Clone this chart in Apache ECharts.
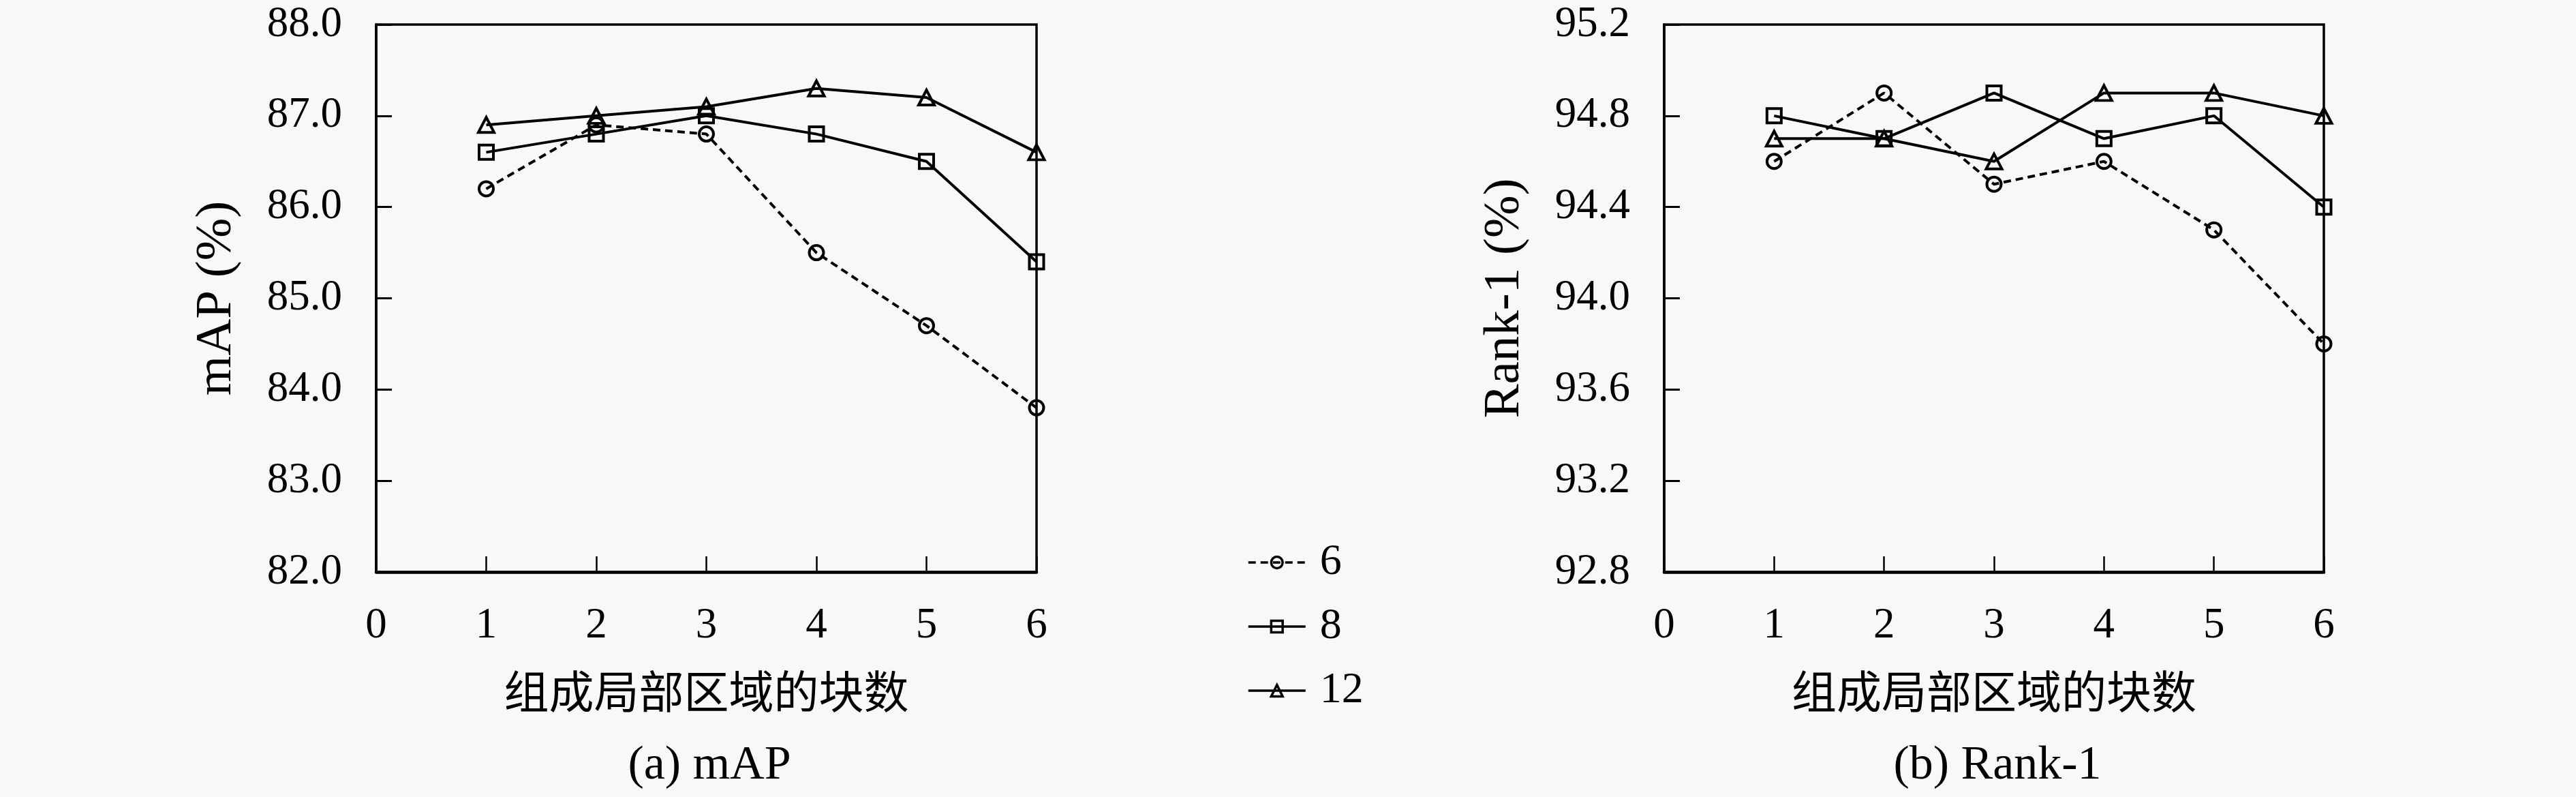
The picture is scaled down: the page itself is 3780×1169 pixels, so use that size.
<!DOCTYPE html>
<html>
<head>
<meta charset="utf-8">
<script src="https://cdn.jsdelivr.net/npm/echarts@6/dist/echarts.min.js"></script>
<style>
html,body{margin:0;padding:0;background:#f8f8f8;}
#chart{width:3780px;height:1169px;}
</style>
</head>
<body>
<div id="chart"></div>
<script>
// ---- data ----
const blocks = [1, 2, 3, 4, 5, 6];
const seriesNames = ['6', '8', '12'];
const map6 = [86.2, 86.9, 86.8, 85.5, 84.7, 83.8];
const map8 = [86.6, 86.8, 87.0, 86.8, 86.5, 85.4];
const map12 = [86.9, 87.0, 87.1, 87.3, 87.2, 86.6];
const rank6 = [94.6, 94.9, 94.5, 94.6, 94.3, 93.8];
const rank8 = [94.8, 94.7, 94.9, 94.7, 94.8, 94.4];
const rank12 = [94.7, 94.7, 94.6, 94.9, 94.9, 94.8];
const xAxisTitle = '组成局部区域的块数';
const yTitles = ['mAP (%)', 'Rank-1 (%)'];
const subTitles = ['(a) mAP', '(b) Rank-1'];

const FONT = "'Liberation Serif', 'Noto Sans CJK SC', serif";
const BG = '#f8f8f8';

function pairs(ys) { return blocks.map((x, i) => [x, ys[i]]); }

const grids = [
  { left: 552, top: 36, width: 969, height: 803 },
  { left: 2442, top: 36, width: 968, height: 803 }
];

function xAxisFor(idx) {
  return {
    gridIndex: idx, type: 'value', min: 0, max: 6, interval: 1,
    name: xAxisTitle, nameLocation: 'middle', nameGap: 150,
    nameTextStyle: { fontFamily: FONT, fontSize: 66, color: '#000', lineHeight: 66 },
    axisLine: { show: true, lineStyle: { color: '#000', width: 4.5 } },
    axisTick: { show: true, inside: true, length: 23, lineStyle: { color: '#000', width: 2.5 } },
    axisLabel: { fontFamily: FONT, fontSize: 63, color: '#000', margin: 48 },
    splitLine: { show: false }
  };
}
function yAxisFor(idx, min, max, interval, name) {
  return {
    gridIndex: idx, type: 'value', min: min, max: max, interval: interval,
    name: name, nameLocation: 'middle', nameGap: 196, nameRotate: 90,
    nameTextStyle: { fontFamily: FONT, fontSize: 75, color: '#000' },
    axisLine: { show: true, lineStyle: { color: '#000', width: 3.5 } },
    axisTick: { show: true, inside: true, length: 23, lineStyle: { color: '#000', width: 3 } },
    axisLabel: { fontFamily: FONT, fontSize: 63, color: '#000', margin: 50,
      formatter: v => Number(v).toFixed(1) },
    splitLine: { show: false }
  };
}

const styles = [
  { symbol: 'circle', size: 21, type: [11, 7] },
  { symbol: 'rect', size: 21, type: 'solid' },
  { symbol: 'triangle', size: [23, 22], type: 'solid' }
];

function mkSeries(idx, name, ys, st) {
  return {
    type: 'line', name: name, xAxisIndex: idx, yAxisIndex: idx,
    data: pairs(ys), symbol: st.symbol, symbolSize: st.size, showSymbol: true,
    lineStyle: { color: '#000', width: 4, type: st.type },
    itemStyle: { color: 'rgba(0,0,0,0)', borderColor: '#000', borderWidth: 4 },
    emphasis: { disabled: true }, animation: false
  };
}

const leftData = [map6, map8, map12];
const rightData = [rank6, rank8, rank12];
const series = [];
seriesNames.forEach((n, i) => series.push(mkSeries(0, n, leftData[i], styles[i])));
seriesNames.forEach((n, i) => series.push(mkSeries(1, n, rightData[i], styles[i])));

const option = {
  backgroundColor: BG,
  animation: false,
  grid: grids.map(g => Object.assign({ show: true, borderColor: '#000', borderWidth: 3.5, backgroundColor: 'transparent' }, g)),
  xAxis: [xAxisFor(0), xAxisFor(1)],
  yAxis: [yAxisFor(0, 82, 88, 1, yTitles[0]), yAxisFor(1, 92.8, 95.2, 0.4, yTitles[1])],
  legend: {
    orient: 'vertical', left: 1825, top: 788,
    data: seriesNames,
    itemWidth: 84, itemHeight: 21, itemGap: 30,
    lineStyle: { width: 3.5 },
    itemStyle: { borderWidth: 3.5 },
    textStyle: { fontFamily: FONT, fontSize: 64, color: '#000', lineHeight: 64, padding: [0, 0, 0, 16] },
    selectedMode: false
  },
  title: [
    { text: subTitles[0], left: 1036, top: 1084, textAlign: 'center',
      textStyle: { fontFamily: FONT, fontSize: 70, fontWeight: 'normal', color: '#000' } },
    { text: subTitles[1], left: 2926, top: 1084, textAlign: 'center',
      textStyle: { fontFamily: FONT, fontSize: 70, fontWeight: 'normal', color: '#000' } }
  ],
  series: series
};

const chart = echarts.init(document.getElementById('chart'), null, { renderer: 'canvas' });
chart.setOption(option);
</script>
</body>
</html>
